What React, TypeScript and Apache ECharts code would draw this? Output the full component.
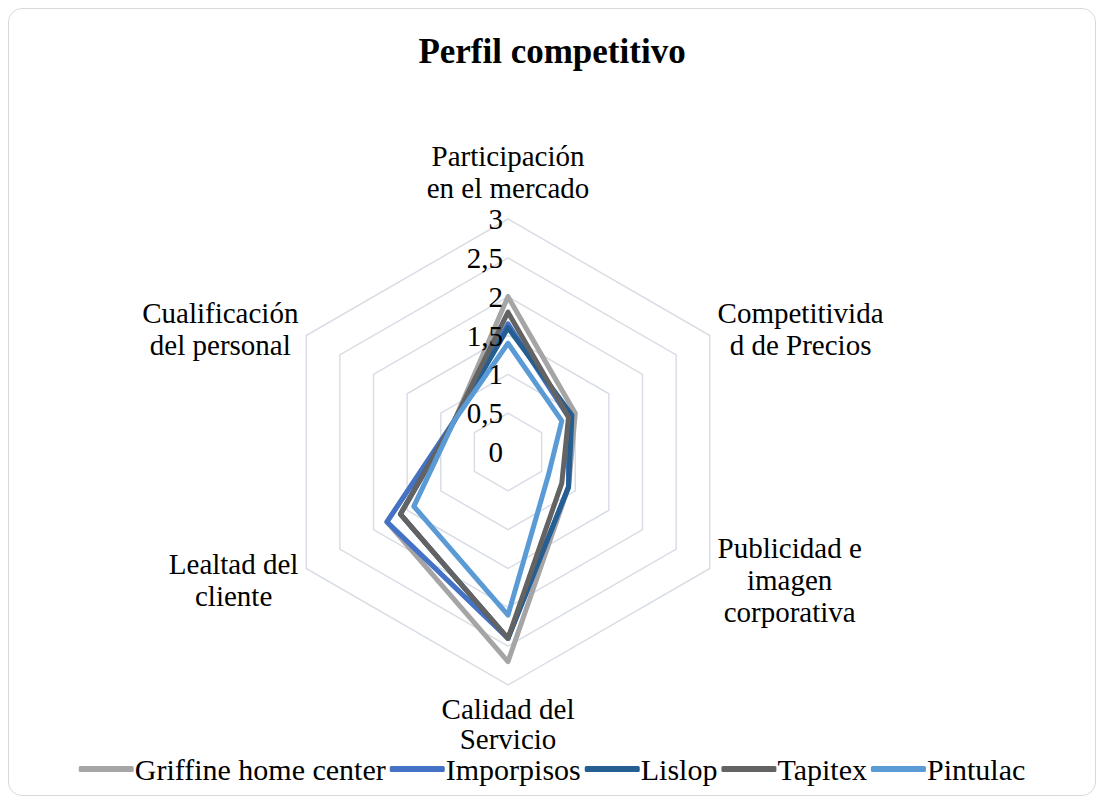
import React, { useEffect, useRef } from "react";
import * as echarts from "echarts";

// Indicators in clockwise order starting from the top
const indicators = [
  "Participación\nen el mercado",
  "Competitivida\nd de Precios",
  "Publicidad e\nimagen\ncorporativa",
  "Calidad del\nServicio",
  "Lealtad del\ncliente",
  "Cualificación\ndel personal",
];
const seriesNames = ["Griffine home center", "Imporpisos", "Lislop", "Tapitex", "Pintulac"];
const griffine = [2.0, 1.0, 0.9, 2.7, 1.8, 0.8];
const imporpisos = [1.65, 0.9, 0.9, 2.4, 1.8, 0.8];
const lislop = [1.6, 0.95, 0.9, 2.4, 1.6, 0.8];
const tapitex = [1.8, 0.9, 0.8, 2.4, 1.6, 0.8];
const pintulac = [1.4, 0.8, 0.6, 2.1, 1.4, 0.8];
const seriesValues = [griffine, imporpisos, lislop, tapitex, pintulac];
const colors = ["#A5A5A5", "#4472C4", "#255E91", "#636363", "#5B9BD5"];
const tickLabels = ["0", "0,5", "1", "1,5", "2", "2,5", "3"];
const axisMax = 3;
const splitCount = 6;

const FONT = "'Liberation Serif', 'Times New Roman', serif";
const FS = 29;

// ECharts radar runs counter-clockwise; reorder so the picture runs clockwise
const order = [0, 5, 4, 3, 2, 1];

function measure(text: string, size: number): number {
  const c = document.createElement("canvas").getContext("2d");
  if (!c) return text.length * size * 0.45;
  c.font = `${size}px ${FONT}`;
  return Math.max(...text.split("\n").map((l) => c.measureText(l).width));
}

export default function App() {
  const ref = useRef<HTMLDivElement>(null);
  useEffect(() => {
    if (!ref.current) return;
    const chart = echarts.init(ref.current, undefined, { renderer: "svg" });
    const cx = 499;
    const cy = 443;
    const R = 233;
    const gap = 9;
    const nameGraphics = indicators.map((name, i) => {
      const ang = ((90 - i * 60) * Math.PI) / 180;
      const cos = Math.cos(ang);
      const sin = Math.sin(ang);
      const px = cx + (R + gap) * cos;
      const py = cy - (R + gap) * sin;
      const w = measure(name, FS);
      let x = px;
      let y = py;
      let va: any = "middle";
      let lh = 32;
      if (Math.abs(cos) < 1e-3) {
        va = sin > 0 ? "bottom" : "top";
        y = sin > 0 ? py - 6 : py;
        if (sin < 0) lh = 30;
      } else {
        x = cos > 0 ? px + w / 2 : px - w / 2;
        y = sin < 0 ? py + 7 : py - 2;
      }
      return {
        type: "text",
        x,
        y,
        silent: true,
        z: 100,
        style: {
          text: name,
          fill: "#000",
          fontSize: FS,
          fontFamily: FONT,
          align: "center",
          verticalAlign: va,
          lineHeight: lh,
        },
      };
    });
    const tickGraphics = tickLabels.map((t, k) => ({
      type: "text",
      x: cx - 5,
      y: cy - (R * (k * (axisMax / splitCount))) / axisMax,
      silent: true,
      z: 100,
      style: {
        text: t,
        fill: "#000",
        fontSize: FS,
        fontFamily: FONT,
        align: "right",
        verticalAlign: "middle",
      },
    }));

    chart.setOption({
      animation: false,
      color: colors,
      title: {
        text: "Perfil competitivo",
        left: "center",
        top: 25,
        padding: 0,
        textStyle: { fontFamily: FONT, fontSize: 35, fontWeight: "bold", color: "#000" },
      },
      legend: {
        top: 745,
        left: "center",
        padding: 0,
        itemWidth: 55,
        itemHeight: 6,
        itemGap: 4,
        icon: "roundRect",
        data: seriesNames,
        textStyle: { fontFamily: FONT, fontSize: 30, color: "#000", padding: [0, 0, 0, -4] },
      },
      radar: {
        center: [cx, cy],
        radius: R,
        startAngle: 90,
        splitNumber: splitCount,
        shape: "polygon",
        indicator: order.map((idx) => ({
          name: indicators[idx],
          max: axisMax,
          min: 0,
        })),
        axisName: { show: false },
        axisLine: { show: false },
        axisTick: { show: false },
        axisLabel: { show: false },
        splitArea: { show: false },
        splitLine: { lineStyle: { color: "#D9DDE6", width: 1.5 } },
      },
      graphic: [...nameGraphics, ...tickGraphics],
      series: [
        {
          type: "radar",
          symbol: "none",
          data: seriesNames.map((name, k) => ({
            name,
            value: order.map((idx) => seriesValues[k][idx]),
            lineStyle: { color: colors[k], width: 5, join: "round", cap: "round" },
            itemStyle: { color: colors[k] },
          })),
        },
      ],
    });
    return () => chart.dispose();
  }, []);
  return (
    <div
      ref={ref}
      style={{
        width: 1088,
        height: 788,
        border: "1px solid #D9D9D9",
        borderRadius: 14,
        boxSizing: "border-box",
        background: "#fff",
      }}
    />
  );
}
